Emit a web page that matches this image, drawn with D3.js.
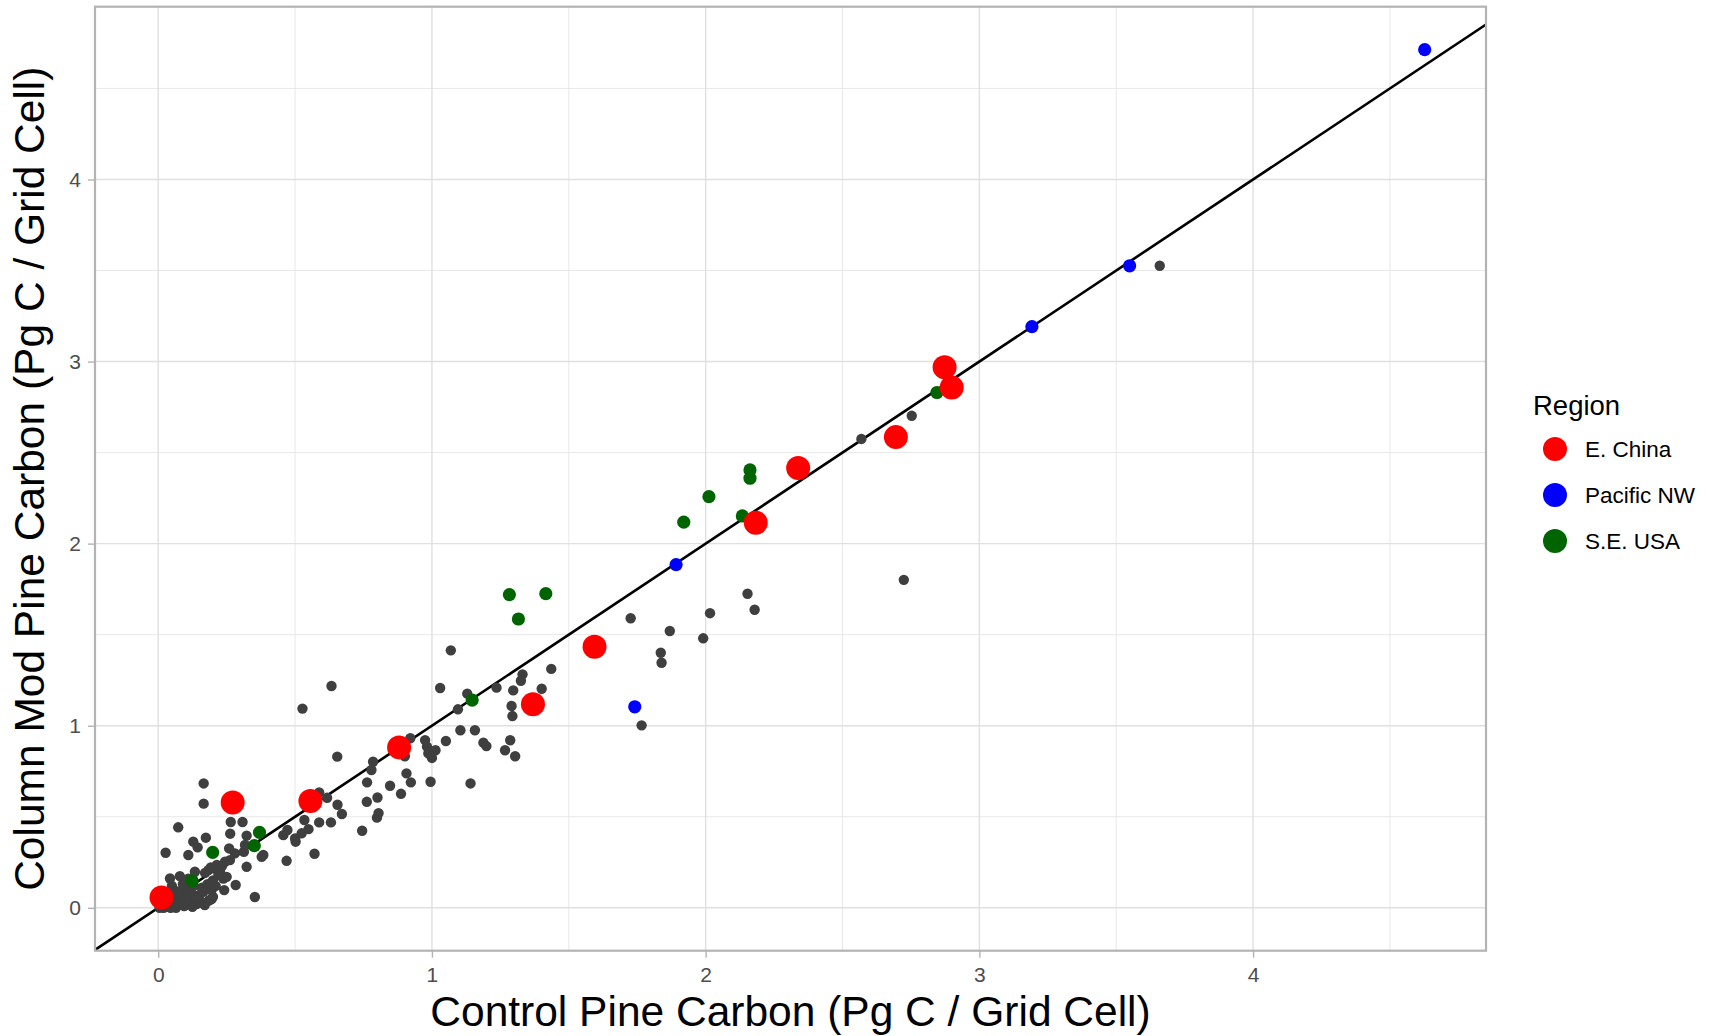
<!DOCTYPE html>
<html><head><meta charset="utf-8">
<script src="https://cdn.jsdelivr.net/npm/d3@7"></script>
<style>body{margin:0;background:#fff;} svg{display:block;font-family:"Liberation Sans",Arial,Helvetica,sans-serif;}</style>
</head><body><svg id="chart" width="1715" height="1036"></svg>
<script>
// ---- data ----
const xTicks = [0, 1, 2, 3, 4];
const yTicks = [0, 1, 2, 3, 4];
const xLabel = "Control Pine Carbon (Pg C / Grid Cell)";
const yLabel = "Column Mod Pine Carbon (Pg C / Grid Cell)";
const legendTitle = "Region";
const regions = ["E. China", "Pacific NW", "S.E. USA"];
const regionColors = ["#FF0000", "#0000FF", "#006400"];

// other (unlabelled) grid cells: [control, column mod]
const otherPts = [
  [3.659,3.526],[2.753,2.702],[2.569,2.575],[2.724,1.801],[2.153,1.725],[2.179,1.637],
  [2.016,1.618],[1.726,1.590],[1.869,1.520],[1.991,1.480],[1.836,1.401],[1.839,1.346],[1.766,1.002],
  [1.436,1.312],[1.331,1.282],[1.325,1.247],[1.401,1.203],[1.297,1.194],[1.236,1.209],[1.069,1.414],
  [1.030,1.207],[1.129,1.176],[1.095,1.090],[1.291,1.108],[1.294,1.053],[1.104,0.975],[1.157,0.975],
  [1.051,0.916],[1.188,0.907],[1.199,0.888],[1.286,0.920],[1.267,0.865],[1.304,0.832],[1.013,0.865],
  [1.000,0.823],[0.995,0.692],[1.141,0.683],
  [0.975,0.921],[0.921,0.931],[0.982,0.885],[0.987,0.848],[0.901,0.832],[0.785,0.802],[0.779,0.757],
  [0.907,0.738],[0.923,0.689],[0.847,0.670],[0.887,0.626],[0.763,0.689],[0.654,0.830],[0.762,0.582],
  [0.801,0.606],[0.805,0.520],[0.799,0.495],[0.745,0.423],[0.588,0.634],[0.617,0.604],[0.655,0.566],
  [0.671,0.515],[0.588,0.469],[0.631,0.469],[0.534,0.482],[0.549,0.432],[0.472,0.427],[0.457,0.399],
  [0.524,0.409],[0.500,0.381],[0.633,1.218],[0.527,1.094],[0.571,0.297],[0.469,0.258],[0.353,0.059],
  [0.166,0.683],[0.166,0.572],[0.073,0.442],[0.265,0.471],[0.308,0.471],[0.263,0.407],[0.323,0.396],
  [0.174,0.385],[0.128,0.363],[0.144,0.332],[0.027,0.302],[0.110,0.290],[0.280,0.299],[0.313,0.308],
  [0.317,0.345],[0.384,0.290],[0.378,0.280],[0.323,0.225],[0.244,0.253],[0.262,0.262],[0.207,0.216],
  [0.183,0.207],[0.226,0.198],[0.238,0.161],[0.283,0.125],[0.241,0.097],[0.195,0.097],[0.043,0.161],
  [0.079,0.174],[0.134,0.198],[0.259,0.326],[0.502,0.363],[0.250,0.170],[0.192,0.222],[0.171,0.192],
  [0.214,0.235],[0.233,0.229],[0.165,0.088],[0.195,0.048],[0.165,0.024],
  [0.005,0.000],[0.020,0.000],[0.035,0.005],[0.050,0.010],[0.065,0.000],[0.080,0.020],[0.095,0.010],
  [0.110,0.030],[0.125,0.005],[0.140,0.020],[0.155,0.035],[0.170,0.015],[0.185,0.040],[0.200,0.060],
  [0.030,0.030],[0.060,0.050],[0.090,0.060],[0.120,0.080],[0.150,0.070],[0.100,0.100],[0.070,0.090],
  [0.130,0.120],[0.160,0.110],[0.180,0.130],[0.200,0.150],[0.210,0.120],[0.220,0.180],[0.040,0.070],
  [0.015,0.040],[0.050,0.120],[0.090,0.130],[0.110,0.160],[0.025,0.015],[0.045,0.000],[0.075,0.035],
  [0.100,0.045],[0.135,0.050],[0.060,0.020]
];
const chinaPts = [
  [0.012,0.057],[0.272,0.578],[0.556,0.587],[0.880,0.881],[1.369,1.118],[1.594,1.434],
  [2.183,2.115],[2.338,2.415],[2.695,2.585],[2.873,2.969],[2.899,2.857]
];
const pnwPts = [
  [1.741,1.104],[1.892,1.885],[3.192,3.192],[3.549,3.526],[4.627,4.713]
];
const sePts = [
  [0.124,0.148],[0.199,0.304],[0.351,0.341],[0.370,0.414],[1.147,1.141],[1.283,1.720],[1.316,1.586],
  [1.416,1.725],[1.920,2.118],[2.012,2.258],[2.134,2.152],[2.162,2.359],[2.162,2.405],[2.845,2.830]
];

// ---- layout ----
const svg = d3.select("#chart");
const L = 95, R = 1486, T = 6.7, B = 950.7;
const x = d3.scaleLinear().domain([-0.231, 4.851]).range([L, R]);
const y = d3.scaleLinear().domain([-0.2357, 4.949]).range([B, T]);

svg.append("defs").append("clipPath").attr("id","clip")
  .append("rect").attr("x",L).attr("y",T).attr("width",R-L).attr("height",B-T);

// grid
const grid = svg.append("g");
const minor = [0.5,1.5,2.5,3.5,4.5];
grid.selectAll(".vmin").data(minor.filter(v=>v<x.domain()[1])).join("line")
  .attr("x1",d=>x(d)).attr("x2",d=>x(d)).attr("y1",T).attr("y2",B)
  .attr("stroke","#E8E8E8").attr("stroke-width",1);
grid.selectAll(".hmin").data(minor.filter(v=>v<y.domain()[1])).join("line")
  .attr("y1",d=>y(d)).attr("y2",d=>y(d)).attr("x1",L).attr("x2",R)
  .attr("stroke","#E8E8E8").attr("stroke-width",1);
grid.selectAll(".vmaj").data(xTicks).join("line")
  .attr("x1",d=>x(d)).attr("x2",d=>x(d)).attr("y1",T).attr("y2",B)
  .attr("stroke","#E0E0E0").attr("stroke-width",1.4);
grid.selectAll(".hmaj").data(yTicks).join("line")
  .attr("y1",d=>y(d)).attr("y2",d=>y(d)).attr("x1",L).attr("x2",R)
  .attr("stroke","#E0E0E0").attr("stroke-width",1.4);

// 1:1 line
const plot = svg.append("g").attr("clip-path","url(#clip)");
const d0 = x.domain();
plot.append("line")
  .attr("x1",x(d0[0])).attr("y1",y(d0[0])).attr("x2",x(d0[1])).attr("y2",y(d0[1]))
  .attr("stroke","#000").attr("stroke-width",2.6);

// points
plot.selectAll(".oth").data(otherPts).join("circle")
  .attr("cx",d=>x(d[0])).attr("cy",d=>y(d[1])).attr("r",5.2).attr("fill","#3F3F3F");
plot.selectAll(".pnw").data(pnwPts).join("circle")
  .attr("cx",d=>x(d[0])).attr("cy",d=>y(d[1])).attr("r",6.6).attr("fill",regionColors[1]);
plot.selectAll(".se").data(sePts).join("circle")
  .attr("cx",d=>x(d[0])).attr("cy",d=>y(d[1])).attr("r",6.6).attr("fill",regionColors[2]);
plot.selectAll(".ch").data(chinaPts).join("circle")
  .attr("cx",d=>x(d[0])).attr("cy",d=>y(d[1])).attr("r",12).attr("fill",regionColors[0]);

// panel border
svg.append("rect").attr("x",L).attr("y",T).attr("width",R-L).attr("height",B-T)
  .attr("fill","none").attr("stroke","#B3B3B3").attr("stroke-width",2.2);

// axes
const xAxis = svg.append("g").attr("transform",`translate(0,${B})`)
  .call(d3.axisBottom(x).tickValues(xTicks).tickFormat(d3.format("d")).tickSize(7).tickPadding(9));
const yAxis = svg.append("g").attr("transform",`translate(${L},0)`)
  .call(d3.axisLeft(y).tickValues(yTicks).tickFormat(d3.format("d")).tickSize(7).tickPadding(7));
[xAxis,yAxis].forEach(a=>{
  a.select(".domain").remove();
  a.selectAll(".tick line").attr("stroke","#B3B3B3").attr("stroke-width",1.4);
  a.selectAll(".tick text").attr("fill","#4D4D4D").style("font-size","21px")
    .style("font-family",'"Liberation Sans",Arial,sans-serif');
});

// axis titles
svg.append("text").attr("x",(L+R)/2).attr("y",1025.5).attr("text-anchor","middle")
  .style("font-size","42.5px").attr("fill","#000").text(xLabel);
svg.append("text").attr("transform",`translate(44,${(T+B)/2}) rotate(-90)`).attr("text-anchor","middle")
  .style("font-size","42.5px").attr("fill","#000").text(yLabel);

// legend
const lg = svg.append("g");
lg.append("text").attr("x",1533).attr("y",415).style("font-size","27.5px").attr("fill","#000").text(legendTitle);
const lgY = [449, 495, 541];
regions.forEach((r,i)=>{
  lg.append("circle").attr("cx",1555).attr("cy",lgY[i]).attr("r",12).attr("fill",regionColors[i]);
  lg.append("text").attr("x",1585).attr("y",lgY[i]+8).style("font-size","22.5px").attr("fill","#000").text(r);
});
</script>
</body></html>
